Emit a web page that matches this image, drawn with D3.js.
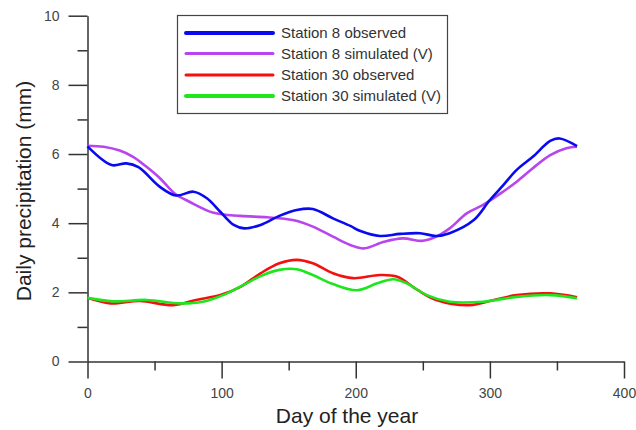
<!DOCTYPE html>
<html>
<head>
<meta charset="utf-8">
<script src="https://cdn.jsdelivr.net/npm/d3@7"></script>
<style>
  body { margin: 0; background: #fff; }
  text { font-family: Arial, "Liberation Sans", sans-serif; }
</style>
</head>
<body>
<svg width="636" height="430"></svg>
<script>
// days (x) and daily precipitation (mm)
const st8ObsDay = [0, 18, 29, 38, 54, 66, 79, 89, 99, 109, 117, 129, 143, 156, 168, 183, 196, 203, 218, 233, 248, 260, 270, 288, 300, 310, 320, 332, 345, 352, 365];
const st8Obs = [6.22, 5.68, 5.73, 5.62, 5.05, 4.80, 4.91, 4.72, 4.33, 3.95, 3.85, 3.95, 4.21, 4.38, 4.41, 4.14, 3.92, 3.78, 3.63, 3.69, 3.71, 3.63, 3.71, 4.09, 4.67, 5.10, 5.54, 5.92, 6.38, 6.45, 6.23];

const st8SimDay = [0, 12, 24, 34, 44, 54, 65, 76, 94, 114, 134, 153, 168, 183, 196, 206, 221, 235, 250, 260, 270, 283, 295, 308, 320, 332, 345, 357, 365];
const st8Sim = [6.24, 6.21, 6.10, 5.92, 5.63, 5.30, 4.86, 4.62, 4.30, 4.21, 4.17, 4.09, 3.90, 3.61, 3.37, 3.27, 3.46, 3.56, 3.49, 3.61, 3.85, 4.29, 4.53, 4.86, 5.20, 5.59, 5.97, 6.17, 6.21];

const st30ObsDay = [0, 17, 39, 64, 81, 99, 114, 129, 143, 156, 168, 183, 198, 218, 231, 246, 260, 285, 303, 320, 345, 365];
const st30Obs = [1.84, 1.68, 1.75, 1.63, 1.78, 1.92, 2.16, 2.55, 2.84, 2.94, 2.84, 2.55, 2.41, 2.50, 2.45, 2.07, 1.78, 1.63, 1.78, 1.92, 1.97, 1.86];

const st30SimDay = [0, 19, 44, 69, 86, 101, 116, 131, 143, 156, 168, 183, 201, 216, 228, 238, 253, 270, 295, 320, 345, 365];
const st30Sim = [1.84, 1.74, 1.78, 1.68, 1.73, 1.92, 2.21, 2.50, 2.65, 2.67, 2.50, 2.24, 2.06, 2.26, 2.38, 2.26, 1.92, 1.73, 1.73, 1.87, 1.92, 1.83];

const seriesNames = ["Station 8 observed", "Station 8 simulated (V)", "Station 30 observed", "Station 30 simulated (V)"];
const seriesColors = ["#0a0af0", "#b845ee", "#f51010", "#1ee61e"];

const xTicks = [0, 100, 200, 300, 400];
const xMinor = [50, 150, 250, 350];
const yTicks = [0, 2, 4, 6, 8, 10];
const yMinor = [1, 3, 5, 7, 9];

const svg = d3.select("svg");

const x = d3.scaleLinear().domain([0, 400]).range([87.5, 624]);
const y = d3.scaleLinear().domain([0, 10]).range([361.5, 15.7]);

const axisColor = "#333";

// minor ticks first, then major axis on top
svg.append("g")
    .attr("transform", "translate(0," + y(0) + ")")
    .call(d3.axisBottom(x).tickValues(xMinor).tickSize(9).tickSizeOuter(0).tickFormat(""))
    .call(g => g.select(".domain").remove());
svg.append("g")
    .attr("transform", "translate(" + x(0) + ",0)")
    .call(d3.axisLeft(y).tickValues(yMinor).tickSize(10).tickSizeOuter(0).tickFormat(""))
    .call(g => g.select(".domain").remove());

svg.append("g")
    .attr("transform", "translate(0," + y(0) + ")")
    .call(d3.axisBottom(x).tickValues(xTicks).tickSize(17).tickSizeOuter(0).tickPadding(10));
svg.append("g")
    .attr("transform", "translate(" + x(0) + ",0)")
    .call(d3.axisLeft(y).tickValues(yTicks).tickSize(19).tickSizeOuter(0).tickPadding(9));

svg.selectAll(".tick line, .domain")
    .attr("stroke", axisColor)
    .attr("stroke-width", 1.5);
svg.selectAll(".tick text")
    .attr("font-size", 14)
    .attr("fill", "#444");

// axis titles
svg.append("text")
    .attr("x", 347)
    .attr("y", 423)
    .attr("text-anchor", "middle")
    .attr("font-size", 21)
    .attr("fill", "#222")
    .text("Day of the year");

svg.append("text")
    .attr("transform", "translate(31,191) rotate(-90)")
    .attr("text-anchor", "middle")
    .attr("font-size", 21)
    .attr("fill", "#222")
    .text("Daily precipitation (mm)");

// curves
const series = [
    [st8ObsDay, st8Obs],
    [st8SimDay, st8Sim],
    [st30ObsDay, st30Obs],
    [st30SimDay, st30Sim],
];

const line = d3.line()
    .x(d => x(d[0]))
    .y(d => y(d[1]))
    .curve(d3.curveCatmullRom.alpha(0.5));

// draw order: purple under blue, red under green
[1, 0, 2, 3].forEach(i => {
    const pts = series[i][0].map((d, j) => [d, series[i][1][j]]);
    svg.append("path")
        .datum(pts)
        .attr("fill", "none")
        .attr("stroke", seriesColors[i])
        .attr("stroke-width", 2.6)
        .attr("stroke-linejoin", "round")
        .attr("d", line);
});

// legend
const legend = svg.append("g");
legend.append("rect")
    .attr("x", 177.5).attr("y", 15.5)
    .attr("width", 270).attr("height", 98)
    .attr("fill", "#fff")
    .attr("stroke", "#444")
    .attr("stroke-width", 1.2);

const legendY = [33, 53.5, 75, 96];
const legendW = [4, 3, 3, 4];
seriesNames.forEach((name, i) => {
    legend.append("line")
        .attr("x1", 186).attr("x2", 273)
        .attr("y1", legendY[i]).attr("y2", legendY[i])
        .attr("stroke", seriesColors[i])
        .attr("stroke-width", legendW[i])
        .attr("stroke-linecap", "round");
    legend.append("text")
        .attr("x", 281)
        .attr("y", legendY[i] + 5)
        .attr("font-size", 15)
        .attr("fill", "#333")
        .text(name);
});
</script>
</body>
</html>
